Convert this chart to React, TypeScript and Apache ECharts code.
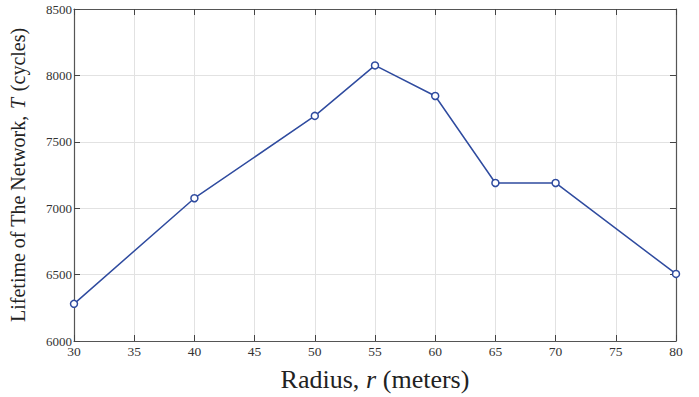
import React, { useEffect, useRef } from "react";
import * as echarts from "echarts";

const radius = [30, 40, 50, 55, 60, 65, 70, 80];
const lifetime = [6280, 7075, 7695, 8075, 7845, 7190, 7190, 6505];
const xTicks = [30, 35, 40, 45, 50, 55, 60, 65, 70, 75, 80];
const yTicks = [6000, 6500, 7000, 7500, 8000, 8500];

const FONT = "'Liberation Serif', 'DejaVu Serif', serif";
const LINE = "#2F4B9F";

export default function App() {
  const ref = useRef<HTMLDivElement>(null);
  useEffect(() => {
    document.body.style.margin = "0";
    document.body.style.overflow = "hidden";
    document.documentElement.style.overflow = "hidden";
    if (!ref.current) return;
    const chart = echarts.init(ref.current, null, { renderer: "svg" });
    const axisLine = { show: true, lineStyle: { color: "#555", width: 1.2 } };
    const axisTick = { show: true, inside: true, length: 6, lineStyle: { color: "#444", width: 1 } };
    chart.setOption({
      animation: false,
      backgroundColor: "#fff",
      grid: { left: 74, right: 23, top: 9, bottom: 56, containLabel: false, outerBoundsMode: "none" },
      xAxis: [
        {
          type: "value",
          min: xTicks[0],
          max: xTicks[xTicks.length - 1],
          interval: 5,
          axisLine,
          axisTick,
          axisLabel: { fontFamily: FONT, fontSize: 13.5, color: "#333", margin: 3, formatter: (v: number) => String(v) },
          splitLine: { show: true, lineStyle: { color: "#e2e2e2", width: 1 } },
          name: "{n|Radius,}  {i|r}  {n|(meters)}",
          nameLocation: "middle",
          nameGap: 24,
          nameTextStyle: {
            lineHeight: 28,
            rich: {
              n: { fontFamily: FONT, fontSize: 26, lineHeight: 28, color: "#222" },
              i: { fontFamily: FONT, fontSize: 26, lineHeight: 28, fontStyle: "italic", color: "#222" },
            },
          },
        },
        {
          type: "value",
          position: "top",
          min: xTicks[0],
          max: xTicks[xTicks.length - 1],
          interval: 5,
          axisLine,
          axisTick,
          axisLabel: { show: false },
          splitLine: { show: false },
        },
      ],
      yAxis: [
        {
          type: "value",
          min: yTicks[0],
          max: yTicks[yTicks.length - 1],
          interval: 500,
          axisLine,
          axisTick,
          axisLabel: { fontFamily: FONT, fontSize: 13, color: "#333", margin: 2, formatter: (v: number) => String(v) },
          splitLine: { show: true, lineStyle: { color: "#e2e2e2", width: 1 } },
          name: "{n|Lifetime of The Network,}  {i|T}  {n|(cycles)}",
          nameLocation: "middle",
          nameRotate: 90,
          nameGap: 45,
          nameTextStyle: {
            lineHeight: 22,
            rich: {
              n: { fontFamily: FONT, fontSize: 20, lineHeight: 22, color: "#222" },
              i: { fontFamily: FONT, fontSize: 20, lineHeight: 22, fontStyle: "italic", color: "#222" },
            },
          },
        },
        {
          type: "value",
          position: "right",
          min: yTicks[0],
          max: yTicks[yTicks.length - 1],
          interval: 500,
          axisLine,
          axisTick,
          axisLabel: { show: false },
          splitLine: { show: false },
        },
      ],
      series: [
        {
          type: "line",
          data: radius.map((r, i) => [r, lifetime[i]]),
          symbol: "circle",
          symbolSize: 7,
          showSymbol: true,
          lineStyle: { color: LINE, width: 1.5 },
          itemStyle: { color: "#fff", borderColor: LINE, borderWidth: 1.5 },
          emphasis: { disabled: true },
        },
      ],
    });
    return () => chart.dispose();
  }, []);
  return <div ref={ref} style={{ width: 699, height: 397 }} />;
}
